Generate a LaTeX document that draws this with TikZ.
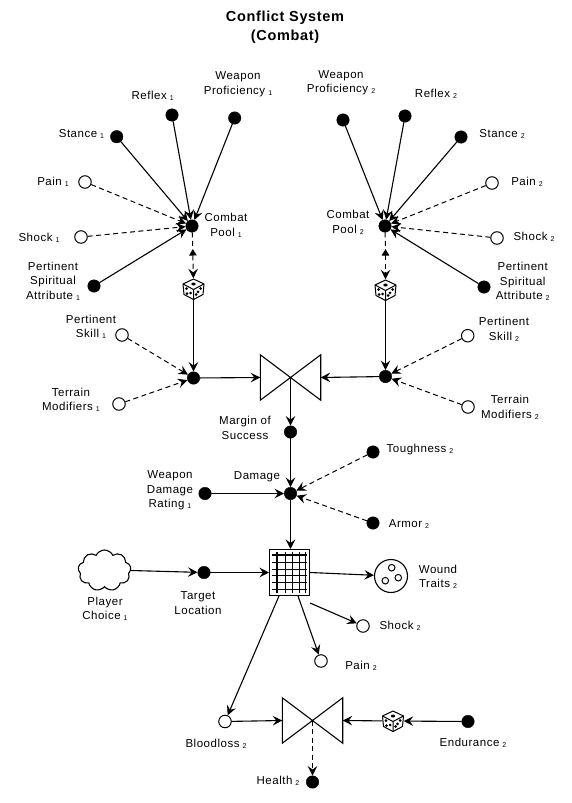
\documentclass[tikz,border=0pt]{standalone}
\usepackage{fontspec}
\setmainfont{Liberation Sans}[LetterSpace=4.5]
\usetikzlibrary{arrows.meta,shapes.symbols}
\newcommand\ix[1]{\hspace{3pt}\raisebox{-1pt}{\fontsize{7}{7}\selectfont #1}}
\newcommand\drawvalve[1]{\draw[line width=1.1pt,line join=miter] (#1.north west)--(#1.south east)--(#1.north east)--(#1.south west)--cycle;}
\tikzset{
 fulldot/.style={circle,fill=black,draw=black,inner sep=0,minimum size=12.5},
 opendot/.style={circle,fill=white,draw=black,line width=1pt,inner sep=0,minimum size=12.5},
 lbl/.style={inner sep=0,align=center,font=\fontsize{11.5}{14.5}\selectfont},
 ttl/.style={inner sep=0,align=center,font=\fontsize{14.5}{19}\selectfont\bfseries},
 tipm/.tip={Stealth[length=9.5pt,width=9.5pt,inset=3.5pt]},
 arr/.style={draw=black,line width=1.1pt,-tipm},
 dsh/.style={draw=black,line width=1pt,dash pattern=on 5pt off 3.5pt,-tipm},
 valvebox/.style={inner sep=0,minimum width=60,minimum height=45},
 dicebox/.style={circle,inner sep=0,minimum size=21},
 gridbox/.style={draw=black,line width=1pt,inner sep=0,minimum width=40,minimum height=46},
 dice/.pic={
  \draw[line width=1pt,line join=round,fill=white] (0,-10)--(10.5,-5)--(9.5,5.5)--(0,10.5)--(-9.5,5.5)--(-10.5,-5)--cycle;
  \draw[line width=1pt,line join=round] (-10.5,-5)--(0,0.5)--(10.5,-5) (0,0.5)--(0,10.5);
  \fill (0,-5) ellipse (2.2 and 1.5);
  \fill (-7,-0.5) circle (1.5) (-6.5,4.5) circle (1.5) (-2.8,4) circle (1.5);
  \fill (2.6,5.5) circle (1.5) (4.5,2.8) circle (1.5) (7.2,-0.5) circle (1.5);
 }
}
\begin{document}
\begin{tikzpicture}[x=1pt,y=-1pt]
\useasboundingbox (0,0) rectangle (572,803);
% title
\node[ttl] (title) at (285,27.5) {Conflict System\\(Combat)};
% left upper
\node[fulldot] (st1) at (116.7,136.7) {};
\node[fulldot] (re1) at (172,115) {};
\node[fulldot] (wp1) at (234.7,118) {};
\node[opendot] (pa1) at (85,182) {};
\node[opendot] (sh1) at (81,237) {};
\node[fulldot] (ps1) at (94,286) {};
\node[fulldot] (cp1) at (192,226) {};
\node[dicebox] (di1) at (193.5,289) {};
\node[opendot] (sk1) at (122,335) {};
\node[opendot] (te1) at (119,404) {};
\node[fulldot] (ju1) at (193.5,378) {};
% right upper
\node[fulldot] (wp2) at (343,120) {};
\node[fulldot] (re2) at (405,116) {};
\node[fulldot] (st2) at (461,137) {};
\node[opendot] (pa2) at (492,183) {};
\node[opendot] (sh2) at (497,238) {};
\node[fulldot] (ps2) at (484,287) {};
\node[fulldot] (cp2) at (385,226) {};
\node[dicebox] (di2) at (385.5,290) {};
\node[opendot] (sk2) at (467.7,335.7) {};
\node[opendot] (te2) at (468,407) {};
\node[fulldot] (ju2) at (385.5,376.5) {};
% centre
\node[valvebox] (v1) at (290.5,377.5) {};
\node[fulldot] (mos) at (290.5,432) {};
\node[fulldot] (dam) at (290.5,493.5) {};
\node[fulldot] (wdr) at (205,493.5) {};
\node[fulldot] (tou) at (373,452) {};
\node[fulldot] (arm) at (373,523) {};
\node[gridbox] (gr) at (289.5,572.5) {};
\node[cloud,draw=black,line width=1.1pt,cloud puffs=9,cloud puff arc=130,aspect=1.3,inner sep=0,minimum width=53,minimum height=41] (cl) at (104.5,570.5) {};
\node[fulldot] (tl) at (204,572.5) {};
\node[circle,draw=black,line width=1.1pt,inner sep=0,minimum size=33] (wt) at (391,576) {};
\node[opendot] (sh3) at (363,626) {};
\node[opendot] (pa3) at (321,661) {};
\node[opendot] (bl) at (225,721.5) {};
\node[valvebox] (v2) at (312.5,720.5) {};
\node[dicebox] (di3) at (393,721) {};
\node[fulldot] (en) at (468,721.5) {};
\node[fulldot] (he) at (312.5,782) {};
% glyphs on nodes
\pic at (di1) {dice};
\pic at (di2) {dice};
\pic at (di3) {dice};
\drawvalve{v1}
\drawvalve{v2}
\foreach \yy in {562.5,569.5,575.5,582.5,589.5} \draw[line width=1pt] (272,\yy)--(307,\yy);
\draw[line width=2pt] (272,555)--(307,555);
\foreach \xx in {285.5,292.5,299.5,305.5} \draw[line width=1pt] (\xx,552)--(\xx,593);
\draw[line width=2pt] (277,552)--(277,593);
\foreach \pp in {(391.7,567.7),(398.3,577.7),(385.3,580.7)} \draw[line width=1pt] \pp circle (3.3);
% connectors
\draw[arr] (st1)--(cp1);
\draw[arr] (re1)--(cp1);
\draw[arr] (wp1)--(cp1);
\draw[dsh] (pa1)--(cp1);
\draw[dsh] (sh1)--(cp1);
\draw[arr] (ps1)--(cp1);
\coordinate (mi1) at (192.8,249);
\draw[draw=black,line width=1pt,dash pattern=on 5pt off 3.5pt] (cp1)--(mi1);
\draw[dsh,{Triangle[length=6.5pt,width=7.5pt]}-tipm] (mi1)--(di1);
\draw[arr] (di1)--(ju1);
\draw[dsh] (sk1)--(ju1);
\draw[dsh] (te1)--(ju1);
\draw[arr] (ju1)--(v1.west);
\draw[arr] (wp2)--(cp2);
\draw[arr] (re2)--(cp2);
\draw[arr] (st2)--(cp2);
\draw[dsh] (pa2)--(cp2);
\draw[dsh] (sh2)--(cp2);
\draw[arr] (ps2)--(cp2);
\coordinate (mi2) at (385.5,249);
\draw[draw=black,line width=1pt,dash pattern=on 5pt off 3.5pt] (cp2)--(mi2);
\draw[dsh,{Triangle[length=6.5pt,width=7.5pt]}-tipm] (mi2)--(di2);
\draw[arr] (di2)--(ju2);
\draw[dsh] (sk2)--(ju2);
\draw[dsh] (te2)--(ju2);
\draw[arr] (ju2)--(v1.east);
\draw[arr] (v1.center)--(mos);
\draw[arr] (mos)--(dam);
\draw[arr] (wdr)--(dam);
\draw[dsh] (tou)--(dam);
\draw[dsh] (arm)--(dam);
\draw[arr] (dam)--(gr.north-|dam);
\draw[arr] (cl.east)--(tl);
\draw[arr] (tl)--(gr.west);
\draw[arr] (gr.east)--(wt);
\coordinate (gs) at ([yshift=-7]gr.south east);
\coordinate (gp) at ([xshift=-12]gr.south east);
\coordinate (gb) at ([xshift=10]gr.south west);
\draw[arr] (gs)--(sh3);
\draw[arr] (gp)--(pa3);
\draw[arr] (gb)--(bl);
\draw[arr] (bl)--(v2.west);
\draw[arr] (di3)--(v2.east);
\draw[arr] (en)--(di3);
\draw[dsh] (v2.center)--(he);
% labels
\node[lbl] (lwp1) at (238,84) {Weapon\\Proficiency\ix{1}};
\node[lbl] (lre1) at (152.7,96) {Reflex\ix{1}};
\node[lbl] (lst1) at (81.5,134) {Stance\ix{1}};
\node[lbl] (lpa1) at (53,182) {Pain\ix{1}};
\node[lbl] (lsh1) at (39,238) {Shock\ix{1}};
\node[lbl] (lps1) at (53,281) {Pertinent\\Spiritual\\Attribute\ix{1}};
\node[lbl] (lcp1) at (226,225.5) {Combat\\Pool\ix{1}};
\node[lbl] (lwp2) at (341,82.5) {Weapon\\Proficiency\ix{2}};
\node[lbl] (lre2) at (436,94) {Reflex\ix{2}};
\node[lbl] (lst2) at (502,134) {Stance\ix{2}};
\node[lbl] (lpa2) at (527,182) {Pain\ix{2}};
\node[lbl] (lsh2) at (534,237) {Shock\ix{2}};
\node[lbl] (lps2) at (522.7,281.5) {Pertinent\\Spiritual\\Attribute\ix{2}};
\node[lbl] (lcp2) at (348,222.5) {Combat\\Pool\ix{2}};
\node[lbl] (lsk1) at (91,327) {Pertinent\\Skill\ix{1}};
\node[lbl] (lte1) at (71,400) {Terrain\\Modifiers\ix{1}};
\node[lbl] (lsk2) at (504,329.5) {Pertinent\\Skill\ix{2}};
\node[lbl] (lte2) at (510,407.5) {Terrain\\Modifiers\ix{2}};
\node[lbl] (lmos) at (245,428) {Margin of\\Success};
\node[lbl] (lwdr) at (170,490.5) {Weapon\\Damage\\Rating\ix{1}};
\node[lbl] (ldam) at (257,477) {Damage};
\node[lbl] (ltou) at (420,450) {Toughness\ix{2}};
\node[lbl] (larm) at (409,524) {Armor\ix{2}};
\node[lbl] (lcl) at (105,609) {Player\\Choice\ix{1}};
\node[lbl] (ltl) at (198,603) {Target\\Location};
\node[lbl] (lwt) at (438,577) {Wound\\Traits\ix{2}};
\node[lbl] (lsh3) at (400,626) {Shock\ix{2}};
\node[lbl] (lpa3) at (361,666) {Pain\ix{2}};
\node[lbl] (lbl) at (216,744) {Bloodloss\ix{2}};
\node[lbl] (len) at (473,743) {Endurance\ix{2}};
\node[lbl] (lhe) at (278,781) {Health\ix{2}};
\end{tikzpicture}
\end{document}
